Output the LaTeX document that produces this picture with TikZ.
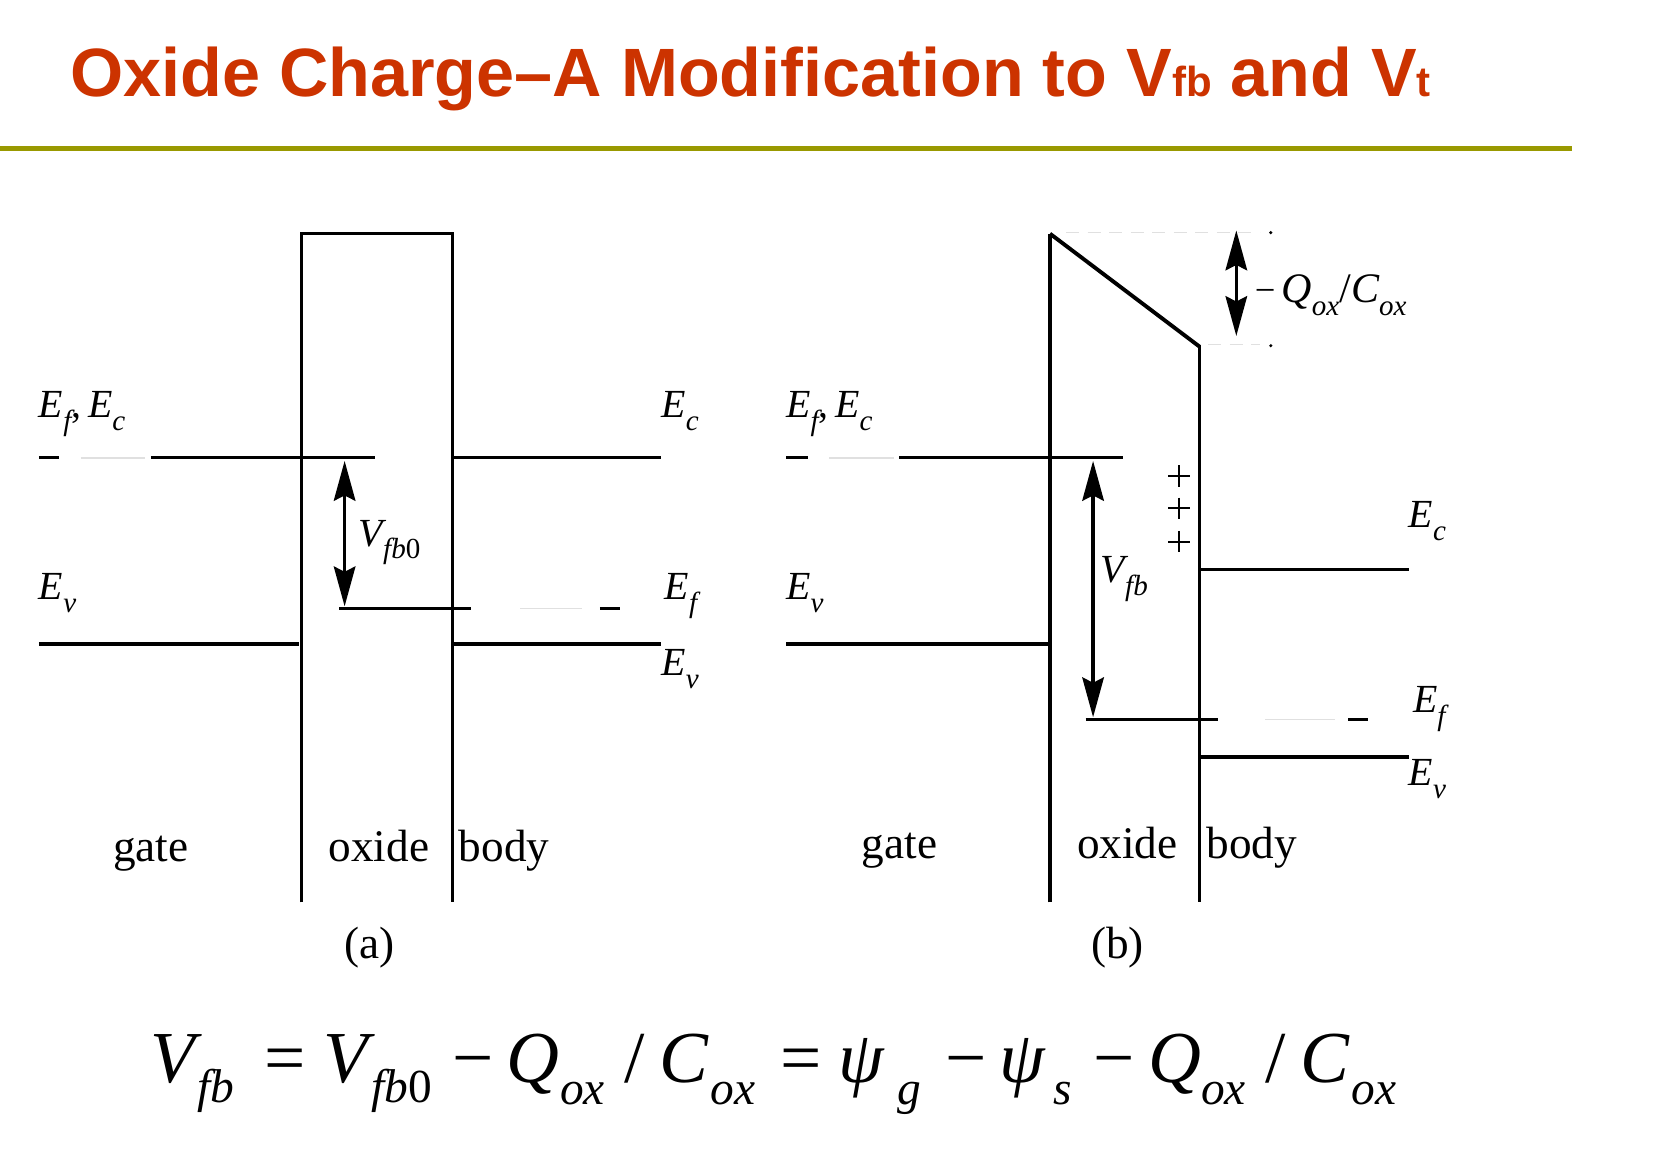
\documentclass[tikz,border=0pt]{standalone}
\usepackage{fontspec}
\setmainfont{Liberation Serif}
\newfontfamily\titlefont{Liberation Sans}
\usetikzlibrary{arrows.meta}
\definecolor{titlered}{RGB}{204,51,0}
\definecolor{rulegold}{RGB}{153,153,0}
\newcommand\lsub[1]{\raisebox{-12pt}{\fontsize{27}{27}\selectfont\itshape #1}}
\newcommand\tsub[1]{{\fontsize{39}{39}\selectfont #1}}
\begin{document}
\begin{tikzpicture}[x=1pt,y=-1pt,
  band/.style={line width=3pt},
  faint/.style={line width=1.5pt,black!12},
  dbl/.style={line width=3.2pt,{Stealth[length=37pt,width=20pt,inset=5pt]}-{Stealth[length=37pt,width=20pt,inset=5pt]}},
  lbl/.style={inner sep=0pt,anchor=base west,font=\fontsize{37}{40}\selectfont\itshape},
  word/.style={inner sep=0pt,anchor=base west,font=\fontsize{42}{46}\selectfont},
  eqm/.style={inner sep=0pt,anchor=base west,font=\fontsize{68}{70}\selectfont\itshape},
  eqo/.style={inner sep=0pt,anchor=base west,font=\fontsize{68}{70}\selectfont},
  eqs/.style={inner sep=0pt,anchor=base west,font=\fontsize{44}{46}\selectfont\itshape},
  plussign/.style={line width=1.8pt}]
\fill[white] (0,0) rectangle (1560,1068);
\useasboundingbox (0,0) rectangle (1560,1068);
% title
\node[anchor=base west,inner sep=0pt,text=titlered,font=\titlefont\bfseries\fontsize{63.5}{70}\selectfont] (title) at (65,90)
  {Oxide Charge–A Modification to V\tsub{fb} and V\tsub{t}};
\draw[rulegold,line width=4pt] (0,138) -- (1460,138);
% ---------- (a) ----------
\draw[band] (280,838) -- (280,217) -- (420,217) -- (420,838);
\draw[band] (36,425) -- (55,425);
\draw[faint] (75,425) -- (135,425);
\draw[band] (140,425) -- (348,425);
\draw[band] (420,425) -- (614,425);
\draw[band] (36,598) -- (278,598);
\draw[band] (420,598) -- (614,598);
\draw[band] (315,565) -- (437,565);
\draw[faint] (483,565) -- (540,565);
\draw[band] (557,565) -- (576,565);
\coordinate (a1) at (320,428);
\coordinate (a2) at (320,563);
\draw[dbl] (a1) -- (a2);
\node[lbl] (vfb0) at (333,507) {V\lsub{fb}\lsub{\upshape 0}};
\node[lbl] (aefec) at (36,388) {E\lsub{f}\upshape,\,\itshape E\lsub{c}};
\node[lbl] (aec) at (614,388) {E\lsub{c}};
\node[lbl] (aev) at (36,557) {E\lsub{v}};
\node[lbl] (aef) at (617,557) {E\lsub{f}};
\node[lbl] (aev2) at (614,627) {E\lsub{v}};
\node[word] (agate) at (105,800) {gate};
\node[word] (aox) at (305,800) {oxide};
\node[word] (abody) at (426,800) {body};
\node[word] (acap) at (320,890) {(a)};
% ---------- (b) ----------
\draw[band] (975,838) -- (975,217);
\draw[line width=3.6pt] (975,217) -- (1114,322);
\draw[band] (1114,320) -- (1114,838);
\draw[band] (730,425) -- (750,425);
\draw[faint] (770,425) -- (830,425);
\draw[band] (835,425) -- (1043,425);
\draw[band] (730,598) -- (973,598);
\draw[band] (1114,529) -- (1308,529);
\draw[band] (1008,668) -- (1131,668);
\draw[faint] (1175,668) -- (1240,668);
\draw[band] (1252,668) -- (1270,668);
\draw[band] (1114,703) -- (1308,703);
\coordinate (b1) at (1015,428);
\coordinate (b2) at (1015,666);
\draw[dbl] (b1) -- (b2);
\node[lbl] (vfb) at (1022,541) {V\lsub{fb}};
\foreach \yy in {442,472,503}
  \draw[plussign] (1085,\yy) -- (1105,\yy) (1095,\yy-10) -- (1095,\yy+10);
\draw[faint,dash pattern=on 12pt off 8pt] (990,216) -- (1170,216);
\draw[faint,dash pattern=on 12pt off 8pt] (1122,320) -- (1170,320);
\fill (1180,216) circle (1.6pt);
\fill (1180,321) circle (1.6pt);
\coordinate (q1) at (1148,214);
\coordinate (q2) at (1148,312);
\draw[dbl] (q1) -- (q2);
\node[lbl] (qc) at (1165,281) {\upshape\fontsize{34}{34}\selectfont −\,\itshape\fontsize{39}{40}\selectfont Q\lsub{ox}\upshape/\itshape C\lsub{ox}};
\node[lbl] (befec) at (730,388) {E\lsub{f}\upshape,\,\itshape E\lsub{c}};
\node[lbl] (bev) at (730,557) {E\lsub{v}};
\node[lbl] (bec) at (1308,490) {E\lsub{c}};
\node[lbl] (bef) at (1312,662) {E\lsub{f}};
\node[lbl] (bev2) at (1308,729) {E\lsub{v}};
\node[word] (bgate) at (800,797) {gate};
\node[word] (box) at (1000,797) {oxide};
\node[word] (bbody) at (1120,797) {body};
\node[word] (bcap) at (1013,890) {(b)};
% ---------- formula ----------
\node[eqm] (e1) at (140,1005) {V};
\node[eqs] (e2) at (183,1024) {fb};
\node[eqo] (e3) at (245,1005) {=};
\node[eqm] (e4) at (300,1005) {V};
\node[eqs] (e5) at (345,1024) {fb\upshape 0};
\node[eqo] (e6) at (420,1005) {−};
\node[eqm] (e7) at (470,1005) {Q};
\node[eqs] (e8) at (520,1026) {ox};
\node[eqo] (e9) at (580,1005) {/};
\node[eqm] (e10) at (612,1005) {C};
\node[eqs] (e11) at (660,1026) {ox};
\node[eqo] (e12) at (725,1005) {=};
\node[eqm] (e13) at (778,1005) {ψ};
\node[eqs] (e14) at (833,1026) {g};
\node[eqo] (e15) at (878,1005) {−};
\node[eqm] (e16) at (928,1005) {ψ};
\node[eqs] (e17) at (978,1026) {s};
\node[eqo] (e18) at (1015,1005) {−};
\node[eqm] (e19) at (1066,1005) {Q};
\node[eqs] (e20) at (1115,1026) {ox};
\node[eqo] (e21) at (1175,1005) {/};
\node[eqm] (e22) at (1207,1005) {C};
\node[eqs] (e23) at (1255,1026) {ox};
\end{tikzpicture}
\end{document}
